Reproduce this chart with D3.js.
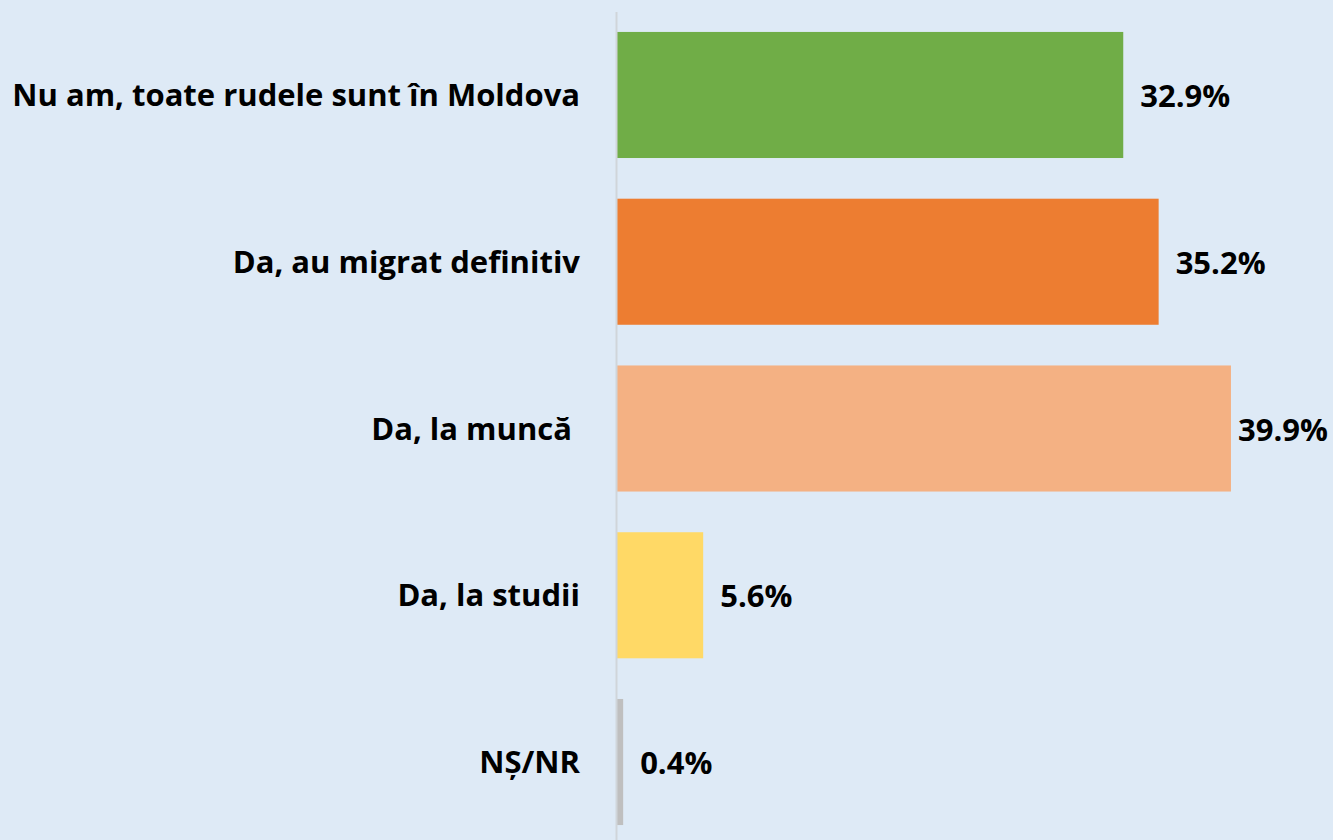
<!DOCTYPE html>
<html>
<head>
<meta charset="utf-8">
<script src="https://cdn.jsdelivr.net/npm/d3@7"></script>
<style>
  html, body { margin: 0; padding: 0; background: #DEEAF6; }
  svg { display: block; }
</style>
</head>
<body>
<svg id="chart"></svg>
<script>
// date din grafic
const categories = [
  'Nu am, toate rudele sunt în Moldova',
  'Da, au migrat definitiv',
  'Da, la muncă ',
  'Da, la studii',
  'NȘ/NR',
]
const values = [32.9, 35.2, 39.9, 5.6, 0.4]
const barColors = ['#70AD47', '#ED7D31', '#F4B183', '#FFD966', '#BFBFBF']

const width = 1333
const height = 840
const FONT = "'Open Sans', Lato, sans-serif"

const svg = d3.select('#chart')
  .attr('width', width)
  .attr('height', height)

svg.append('rect')
  .attr('width', width).attr('height', height)
  .attr('fill', '#DEEAF6')

// ─── scale ───
const x = d3.scaleLinear().domain([0, 40]).range([617, 1232.5])
const y = d3.scaleBand()
  .domain(categories)
  .range([11.6, 845.4])
  .paddingInner(0.244)
  .paddingOuter(0.122)

const rows = categories.map((c, i) => ({ cat: c, val: values[i], color: barColors[i] }))

// ─── bare ───
svg.append('g').attr('class', 'bars')
  .selectAll('rect')
  .data(rows)
  .join('rect')
  .attr('x', x(0))
  .attr('y', d => y(d.cat))
  .attr('width', d => x(d.val) - x(0))
  .attr('height', y.bandwidth())
  .attr('fill', d => d.color)

// axa verticală
svg.append('line')
  .attr('x1', x(0) - 0.5).attr('x2', x(0) - 0.5)
  .attr('y1', 12).attr('y2', height)
  .attr('stroke', '#D0D5DA')
  .attr('stroke-width', 2)

// ─── etichete categorii ───
svg.append('g').attr('class', 'cat-labels')
  .selectAll('text')
  .data(rows)
  .join('text')
  .attr('x', 580)
  .attr('y', d => y(d.cat) + y.bandwidth() / 2 + 11)
  .attr('text-anchor', 'end')
  .style('white-space', 'pre')
  .attr('font-family', FONT)
  .attr('font-weight', 'bold')
  .attr('font-size', '31px')
  .attr('fill', '#000')
  .text(d => d.cat)

// ─── etichete valori ───
svg.append('g').attr('class', 'val-labels')
  .selectAll('text')
  .data(rows)
  .join('text')
  .attr('y', d => y(d.cat) + y.bandwidth() / 2 + 12)
  .attr('font-family', FONT)
  .attr('font-weight', 'bold')
  .attr('font-size', '31px')
  .attr('fill', '#000')
  .text(d => d.val.toFixed(1) + '%')
  .attr('x', function (d) {
    const w = this.getComputedTextLength()
    return Math.min(x(d.val) + 17, width - 5 - w)
  })
</script>
</body>
</html>
